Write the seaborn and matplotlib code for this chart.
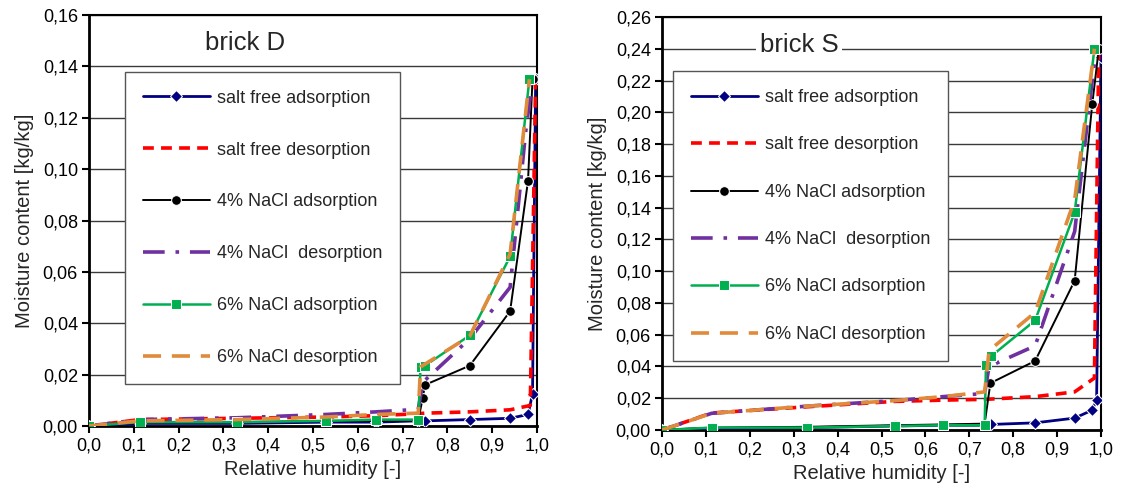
import numpy as np
import pandas as pd
import matplotlib
matplotlib.use("Agg")
import matplotlib.pyplot as plt
from matplotlib.ticker import FuncFormatter, MultipleLocator
import seaborn as sns

# ---------------- data ----------------
series_names = ["salt free adsorption", "salt free desorption", "4% NaCl adsorption",
                "4% NaCl  desorption", "6% NaCl adsorption", "6% NaCl desorption"]

# brick D
D_sf_ads_x = [0.0, 0.113, 0.33, 0.53, 0.64, 0.735, 0.75, 0.85, 0.94, 0.98, 0.99, 0.997]
D_sf_ads_y = [0.0, 0.001, 0.001, 0.0015, 0.0015, 0.002, 0.002, 0.0025, 0.003, 0.0045, 0.0125, 0.135]
D_sf_des_x = [0.0, 0.113, 0.33, 0.53, 0.64, 0.735, 0.75, 0.85, 0.94, 0.985, 0.997]
D_sf_des_y = [0.0, 0.0025, 0.003, 0.0035, 0.004, 0.0048, 0.005, 0.0055, 0.0063, 0.008, 0.135]
D_4_ads_x = [0.0, 0.113, 0.33, 0.53, 0.64, 0.735, 0.745, 0.75, 0.85, 0.94, 0.98, 0.99]
D_4_ads_y = [0.0, 0.0015, 0.0015, 0.002, 0.002, 0.0022, 0.011, 0.016, 0.0235, 0.0447, 0.0955, 0.135]
D_4_des_x = [0.0, 0.113, 0.33, 0.53, 0.64, 0.735, 0.745, 0.85, 0.94, 0.975, 0.99]
D_4_des_y = [0.0, 0.0025, 0.0032, 0.0045, 0.0055, 0.0065, 0.017, 0.034, 0.054, 0.115, 0.135]
D_6_ads_x = [0.0, 0.113, 0.33, 0.53, 0.64, 0.735, 0.74, 0.75, 0.85, 0.94, 0.983]
D_6_ads_y = [0.0, 0.0015, 0.0015, 0.002, 0.0025, 0.0025, 0.023, 0.0235, 0.0353, 0.066, 0.135]
D_6_des_x = [0.0, 0.113, 0.33, 0.53, 0.64, 0.735, 0.74, 0.85, 0.94, 0.983]
D_6_des_y = [0.0, 0.002, 0.0025, 0.0035, 0.0045, 0.005, 0.023, 0.035, 0.067, 0.135]

# brick S
S_sf_ads_x = [0.0, 0.113, 0.33, 0.53, 0.64, 0.735, 0.75, 0.85, 0.94, 0.98, 0.99, 1.0]
S_sf_ads_y = [0.0, 0.001, 0.0015, 0.0025, 0.003, 0.003, 0.0035, 0.0045, 0.0075, 0.0125, 0.019, 0.235]
S_sf_des_x = [0.0, 0.113, 0.33, 0.53, 0.64, 0.735, 0.75, 0.85, 0.94, 0.985, 0.995]
S_sf_des_y = [0.0, 0.0107, 0.0146, 0.018, 0.0188, 0.0193, 0.0195, 0.021, 0.024, 0.0327, 0.24]
S_4_ads_x = [0.0, 0.113, 0.33, 0.53, 0.64, 0.735, 0.748, 0.85, 0.94, 0.98, 0.995]
S_4_ads_y = [0.0, 0.0015, 0.002, 0.003, 0.0035, 0.004, 0.0295, 0.0435, 0.094, 0.205, 0.24]
S_4_des_x = [0.0, 0.113, 0.33, 0.53, 0.64, 0.735, 0.745, 0.85, 0.94, 0.98, 0.99]
S_4_des_y = [0.0, 0.0105, 0.015, 0.0185, 0.021, 0.023, 0.04, 0.053, 0.125, 0.22, 0.24]
S_6_ads_x = [0.0, 0.113, 0.33, 0.53, 0.64, 0.735, 0.738, 0.75, 0.85, 0.94, 0.985]
S_6_ads_y = [0.0, 0.0015, 0.0015, 0.0025, 0.003, 0.003, 0.041, 0.0465, 0.069, 0.137, 0.24]
S_6_des_x = [0.0, 0.113, 0.33, 0.53, 0.64, 0.735, 0.745, 0.85, 0.94, 0.985]
S_6_des_y = [0.0, 0.0105, 0.015, 0.0185, 0.021, 0.024, 0.05, 0.074, 0.145, 0.24]

D_y_max, S_y_max = 0.16, 0.26

# ---------------- style ----------------
sns.set_style("white")
plt.rcParams["font.family"] = ["Liberation Sans", "DejaVu Sans"]

styles = [
    dict(color="#000080", linestyle="-", linewidth=2.0, marker="D", markersize=6.5),
    dict(color="#FF0000", linestyle=(0, (3, 2)), linewidth=2.6),
    dict(color="#000000", linestyle="-", linewidth=1.4, marker="o", markersize=7),
    dict(color="#7030A0", linestyle=(0, (6, 3, 1, 3)), linewidth=2.6),
    dict(color="#00B050", linestyle="-", linewidth=1.8, marker="s", markersize=7),
    dict(color="#E08A3C", linestyle=(0, (5, 3)), linewidth=2.6),
]

fig = plt.figure(figsize=(11.23, 4.91), dpi=100)
axD = fig.add_axes([89 / 1123, 1 - 426 / 491, 448 / 1123, 411 / 491])
axS = fig.add_axes([662 / 1123, 1 - 430 / 491, 439 / 1123, 413 / 491])

D_data = [(D_sf_ads_x, D_sf_ads_y), (D_sf_des_x, D_sf_des_y), (D_4_ads_x, D_4_ads_y),
          (D_4_des_x, D_4_des_y), (D_6_ads_x, D_6_ads_y), (D_6_des_x, D_6_des_y)]
S_data = [(S_sf_ads_x, S_sf_ads_y), (S_sf_des_x, S_sf_des_y), (S_4_ads_x, S_4_ads_y),
          (S_4_des_x, S_4_des_y), (S_6_ads_x, S_6_ads_y), (S_6_des_x, S_6_des_y)]


def fmt(dec):
    return FuncFormatter(lambda v, p: f"{v:.{dec}f}".replace(".", ","))


def draw(ax, data, ymax, title, title_xy, leg_anchor, labelspacing):
    for i, (xs, ys) in enumerate(data):
        df = pd.DataFrame({"x": xs, "y": ys})
        sns.lineplot(data=df, x="x", y="y", ax=ax, estimator=None, sort=False,
                     label=series_names[i], zorder=3 + i * 0.1, **styles[i])
    ax.set_xlim(0, 1.0)
    ax.set_ylim(0, ymax)
    ax.xaxis.set_major_locator(MultipleLocator(0.1))
    ax.yaxis.set_major_locator(MultipleLocator(0.02))
    ax.xaxis.set_major_formatter(fmt(1))
    ax.yaxis.set_major_formatter(fmt(2))
    ax.grid(axis="y", color="#3a3a3a", linewidth=1.0)
    ax.grid(axis="x", visible=False)
    ax.set_axisbelow(True)
    for s in ["left", "bottom"]:
        ax.spines[s].set_linewidth(2.0)
        ax.spines[s].set_color("black")
    for s in ["top", "right"]:
        ax.spines[s].set_linewidth(1.5)
        ax.spines[s].set_color("black")
    ax.tick_params(axis="both", direction="out", length=5, width=1.5, labelsize=13,
                   colors="black", left=True, bottom=True, pad=3)
    ax.set_xlabel("Relative humidity [-]", fontsize=14.5, labelpad=4)
    ax.set_ylabel("Moisture content [kg/kg]", fontsize=14.5, labelpad=6)
    ax.text(title_xy[0], title_xy[1], title, transform=ax.transAxes, ha="center", va="center",
            fontsize=18.5, zorder=5,
            bbox=dict(facecolor="white", edgecolor="none", pad=3))
    handles, labels = ax.get_legend_handles_labels()
    hmap = dict(zip(labels, handles))
    leg = ax.legend([hmap[n] for n in series_names], series_names,
                    loc="upper left", bbox_to_anchor=leg_anchor, borderaxespad=0,
                    fontsize=13, frameon=True, fancybox=False, shadow=False,
                    framealpha=1, edgecolor="#555555", handlelength=3.7,
                    handletextpad=0.4, labelspacing=labelspacing, borderpad=1.0,
                    numpoints=1)
    leg.get_frame().set_linewidth(1.0)
    leg.set_zorder(6)


draw(axD, D_data, D_y_max, "brick D", (0.348, 0.932), (0.080, 0.862), 1.93)
draw(axS, S_data, S_y_max, "brick S", (0.312, 0.932), (0.025, 0.869), 1.68)

fig.savefig("out.png", dpi=100)
